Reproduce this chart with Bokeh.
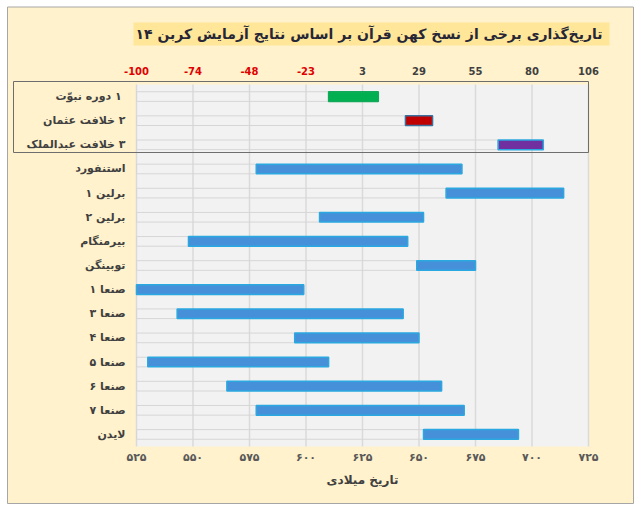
from bokeh.plotting import figure
from bokeh.models import Range1d, ColumnDataSource
from bokeh.core.properties import value
from bokeh.embed import file_html
from bokeh.resources import INLINE

RLE, PDF = "\u202b", "\u202c"

title_text = "تاریخ‌گذاری برخی از نسخ کهن قرآن بر اساس نتایج آزمایش کربن ۱۴"
x_axis_title = "تاریخ میلادی"

categories = ["۱  دوره نبوّت", "۲ خلافت عثمان", "۳ خلافت عبدالملک", "استنفورد",
              "برلین ۱", "برلین ۲", "بیرمنگام", "توبینگن", "صنعا ۱", "صنعا ۳",
              "صنعا ۴", "صنعا ۵", "صنعا ۶", "صنعا ۷", "لایدن"]
starts = [610, 644, 685, 578, 662, 606, 548, 649, 525, 543, 595, 530, 565, 578, 652]
ends = [632, 656, 705, 669, 714, 652, 645, 675, 599, 643, 650, 610, 660, 670, 694]
bar_colors = ["#00b050", "#c00000", "#7030a0"] + ["#4690da"] * 12
bar_lines = ["#12a95a", "#3b6f9c", "#2aa8e0"] + ["#2aa8e0"] * 12

bottom_ticks = [525, 550, 575, 600, 625, 650, 675, 700, 725]
bottom_labels = ["۵۲۵", "۵۵۰", "۵۷۵", "۶۰۰", "۶۲۵", "۶۵۰", "۶۷۵", "۷۰۰", "۷۲۵"]
top_labels = ["-100", "-74", "-48", "-23", "3", "29", "55", "80", "106"]
top_colors = ["#e00000"] * 4 + ["#404040"] * 5

W, H = 634, 504
FONT = value("DejaVu Sans")

# layout: plot area in canvas pixels
PL, PR, PT, PB = 136, 588, 84, 446
xmin, xmax = bottom_ticks[0], bottom_ticks[-1]
n = len(categories)
ppx = (PR - PL) / (xmax - xmin)
ppy = (PB - PT) / n


def fx(px):
    return xmin + (px - PL) / ppx


def fy(py):
    return -0.5 + (py - PT) / ppy


p = figure(width=W, height=H, output_backend="svg", toolbar_location=None,
           x_range=Range1d(fx(0), fx(W)), y_range=Range1d(fy(H), fy(0)),
           x_axis_location=None, y_axis_location=None, min_border=0)
p.background_fill_color = "#ffffff"
p.border_fill_color = "#ffffff"
p.outline_line_color = None
p.xgrid.grid_line_color = None
p.ygrid.grid_line_color = None

# chart area with border
p.quad(left=[fx(7)], right=[fx(633)], top=[fy(6.5)], bottom=[fy(503)],
       fill_color="#fff2cc", line_color="#a6a6a6", line_width=1)

# plot area
p.quad(left=[xmin], right=[xmax], top=[-0.5], bottom=[n - 0.5],
       fill_color="#f2f2f2", line_color=None)
p.segment(x0=bottom_ticks, x1=bottom_ticks, y0=[-0.5] * len(bottom_ticks),
          y1=[n - 0.5] * len(bottom_ticks), line_color="#dadada", line_width=1.5)

ys = list(range(n))
src = ColumnDataSource(dict(y=ys, start=starts, end=ends, base=[xmin] * n,
                            color=bar_colors, line=bar_lines,
                            label=[RLE + c + PDF for c in categories]))

# invisible leading segment with light outline
p.hbar(y="y", left="base", right="start", height=0.4, source=src,
       fill_alpha=0, line_color="#d6d6d6", line_width=1)
p.hbar(y="y", left="start", right="end", height=0.4, source=src,
       fill_color="color", line_color="line", line_width=1.5)

# category labels
p.text(x="base", y="y", text="label", source=src, x_offset=-11,
       text_align="right", text_baseline="middle", text_font=FONT,
       text_font_style="bold", text_font_size="11px", text_color="#404040")

# bottom tick labels + axis title
p.text(x=bottom_ticks, y=[fy(457)] * len(bottom_ticks), text=bottom_labels,
       text_align="center", text_baseline="middle", text_font=FONT,
       text_font_style="bold", text_font_size="11px", text_color="#595959")
p.text(x=[(xmin + xmax) / 2], y=[fy(479)], text=[RLE + x_axis_title + PDF],
       text_align="center", text_baseline="middle", text_font=FONT,
       text_font_style="bold", text_font_size="12px", text_color="#404040")

# top (secondary) tick labels
tsrc = ColumnDataSource(dict(x=bottom_ticks, y=[fy(70)] * len(bottom_ticks),
                             text=top_labels, color=top_colors))
p.text(x="x", y="y", text="text", source=tsrc, text_color="color",
       text_align="center", text_baseline="middle", text_font=FONT,
       text_font_style="bold", text_font_size="10px")

# box around first three rows
p.quad(left=[fx(13)], right=[fx(588)], top=[fy(81)], bottom=[fy(152)],
       fill_color=None, line_color="#6e6e6e", line_width=1)

# title box + title
p.quad(left=[fx(133)], right=[fx(609)], top=[fy(22)], bottom=[fy(45)],
       fill_color="#ffe699", line_color=None)
p.text(x=[fx(602)], y=[fy(33.5)], text=[RLE + title_text + PDF],
       text_align="right", text_baseline="middle", text_font=FONT,
       text_font_style="bold", text_font_size="14px", text_color="#262636")

open("out.html", "w").write(file_html(p, INLINE))
